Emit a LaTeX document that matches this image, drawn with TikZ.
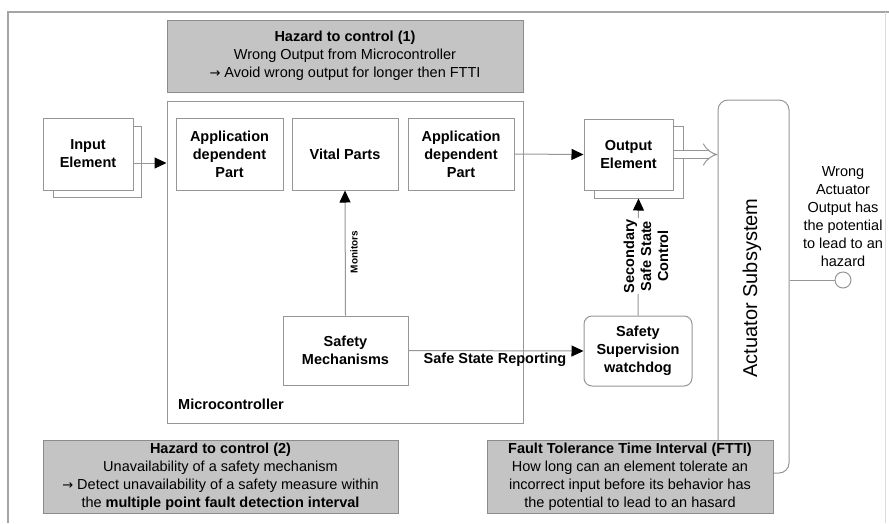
\documentclass[tikz,border=0pt]{standalone}
\usepackage{fontspec}
\setmainfont{Liberation Sans}
\newfontfamily\arrowfont{DejaVu Sans}
\newcommand{\toarrow}{{\arrowfont\fontsize{13}{18}\selectfont →}}
\usetikzlibrary{arrows.meta}
\definecolor{boxgray}{RGB}{150,150,150}
\definecolor{framegray}{RGB}{165,165,165}
\definecolor{hazfill}{RGB}{196,196,196}
\definecolor{hazline}{RGB}{140,140,140}
\begin{document}
\begin{tikzpicture}[x=1pt,y=-1pt,
  every node/.style={font=\fontsize{14.5}{18}\selectfont, align=center, inner sep=0pt, text=black},
  blk/.style={draw=boxgray, line width=1pt, fill=white, font=\fontsize{14.5}{18}\selectfont\bfseries},
  hazbox/.style={draw=hazline, line width=1pt, fill=hazfill},
  arr/.style={draw=boxgray, line width=1pt, -{Triangle[length=12pt,width=11pt,color=black]}},
  plainline/.style={draw=boxgray, line width=1pt},
  lbl/.style={font=\fontsize{14.5}{17}\selectfont\bfseries}
]
\useasboundingbox (0,0) rectangle (889,523);

% outer frame
\draw[framegray, line width=1.2pt] (889,12) -- (8,12) -- (8,523);
\draw[framegray!40, line width=1pt] (885,12) -- (885,523);

% hazard (1)
\node[hazbox, minimum width=356pt, minimum height=72pt] (haz1) at (345,56)
  {{\bfseries Hazard to control (1)}\\Wrong Output from Microcontroller\\\toarrow\ Avoid wrong output for longer then FTTI};

% microcontroller
\node[blk, minimum width=356pt, minimum height=322pt] (micro) at (345,262) {};
\node[lbl, anchor=west] (microlbl) at (178,404) {Microcontroller};

% input element (stacked)
\node[blk, minimum width=88pt, minimum height=71pt] (inB) at (97,161.5) {};
\node[blk, minimum width=90pt, minimum height=72pt] (inF) at (88,154) {Input\\Element};

% parts inside the microcontroller
\node[blk, minimum width=107pt, minimum height=72pt] (app1) at (229.5,154) {Application\\dependent\\Part};
\node[blk, minimum width=106pt, minimum height=72pt] (vital) at (345,154) {Vital Parts};
\node[blk, minimum width=106pt, minimum height=72pt] (app2) at (461,154) {Application\\dependent\\Part};
\node[blk, minimum width=125pt, minimum height=69pt] (sm) at (345.5,350.5) {Safety\\Mechanisms};

% output element (stacked)
\node[blk, minimum width=89pt, minimum height=72pt] (outB) at (638.5,162) {};
\node[blk, minimum width=89pt, minimum height=71pt] (outF) at (628.5,154.5) {Output\\Element};

% safety supervision
\node[blk, rounded corners=8pt, minimum width=108pt, minimum height=70pt] (sup) at (638,351) {Safety\\Supervision\\watchdog};

% actuator subsystem
\node[draw=boxgray, line width=1pt, fill=white, rounded corners=10pt, minimum width=71pt, minimum height=373pt] (act) at (753.5,286.5) {};
\node[rotate=90, font=\fontsize{20}{24}\selectfont] (actlbl) at (752,288) {Actuator Subsystem};

% hazard output
\node (wrong) at (843,217) {Wrong\\Actuator\\Output has\\the potential\\to lead to an\\hazard};
\node[draw=boxgray, line width=1pt, fill=white, circle, minimum size=16pt] (circ) at (843,280) {};

% connectors
\draw[arr] ([yshift=-9pt]inF.east) -- ([yshift=-9pt]inF.east -| micro.west);
\draw[arr] (app2.east) -- (outF.west);
\draw[arr] (sm.north) -- (vital.south);
\node[rotate=90, font=\fontsize{10}{12}\selectfont\bfseries] (monlbl) at (354,252) {Monitors};
\draw[arr] (sm.east) -- (sup.west);
\node[lbl] (sslbl) at (495,360) {Safe State Reporting};
\draw[arr] (sup.north) -- (outB.south);
\node[lbl, rotate=90, fill=white, inner sep=1pt] (seclbl) at (646,256) {Secondary\\Safe State\\Control};
\draw[draw=boxgray, line width=1pt, double, double distance=7pt, -{Implies}] (outF.east) -- (outF.east -| act.west);
\draw[plainline] (act.east |- circ.west) -- (circ.west);

% hazard (2) and FTTI
\node[hazbox, minimum width=355pt, minimum height=73pt] (haz2) at (220.5,476.5)
  {{\bfseries Hazard to control (2)}\\Unavailability of a safety mechanism\\\toarrow\ Detect unavailability of a safety measure within\\the {\bfseries multiple point fault detection interval}};
\node[hazbox, minimum width=286pt, minimum height=73pt] (ftti) at (630,476.5)
  {{\bfseries Fault Tolerance Time Interval (FTTI)}\\How long can an element tolerate an\\incorrect input before its behavior has\\the potential to lead to an hasard};
\end{tikzpicture}
\end{document}
